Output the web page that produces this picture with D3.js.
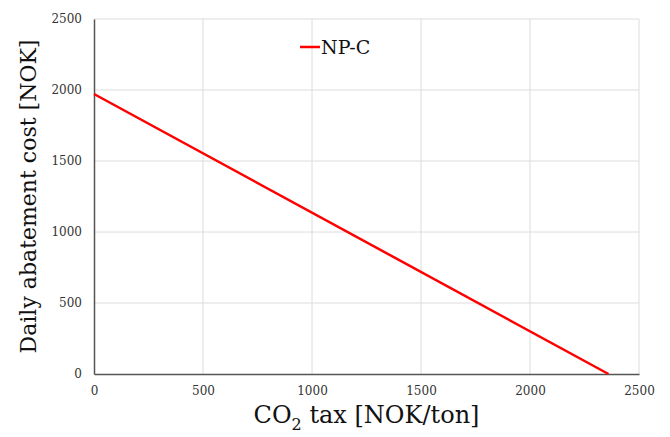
<!DOCTYPE html>
<html>
<head>
<meta charset="utf-8">
<script src="https://cdn.jsdelivr.net/npm/d3@7"></script>
<style>
  body { margin: 0; background: #fff; }
  svg text { font-family: "DejaVu Serif", serif; }
</style>
</head>
<body>
<div id="chart"></div>
<script>
const seriesName = "NP-C"
const taxValues = [0, 2360]
const costValues = [1972, 0]
const xTicks = [0, 500, 1000, 1500, 2000, 2500]
const yTicks = [0, 500, 1000, 1500, 2000, 2500]

const width = 670
const height = 437
const margin = { top: 19, right: 31, bottom: 63, left: 94 }
const serif = "'DejaVu Serif', serif"

const svg = d3.select("#chart")
  .append("svg")
  .attr("width", width)
  .attr("height", height)

const x = d3.scaleLinear()
  .domain([0, 2500])
  .range([margin.left, width - margin.right])

const y = d3.scaleLinear()
  .domain([0, 2500])
  .range([height - margin.bottom, margin.top])

// grid
svg.append("g")
  .selectAll("line")
  .data(yTicks.slice(1))
  .enter()
  .append("line")
  .attr("x1", x(0))
  .attr("x2", x(2500))
  .attr("y1", d => y(d))
  .attr("y2", d => y(d))
  .style("stroke", "#dcdcdc")
  .style("stroke-width", 1)

svg.append("g")
  .selectAll("line")
  .data(xTicks.slice(1))
  .enter()
  .append("line")
  .attr("x1", d => x(d))
  .attr("x2", d => x(d))
  .attr("y1", y(0))
  .attr("y2", y(2500))
  .style("stroke", "#dcdcdc")
  .style("stroke-width", 1)

// axes
const xAxis = svg.append("g")
  .attr("transform", `translate(0,${y(0)})`)
  .call(d3.axisBottom(x).tickValues(xTicks).tickFormat(d3.format("d")).tickSize(0).tickPadding(12))
xAxis.attr("font-family", null)
xAxis.select(".domain").style("stroke", "#555").style("stroke-width", 1.5)
xAxis.selectAll("text").style("font-size", "12px").style("fill", "#333")
  .style("font-family", serif)

const yAxis = svg.append("g")
  .attr("transform", `translate(${x(0)},0)`)
  .call(d3.axisLeft(y).tickValues(yTicks).tickFormat(d3.format("d")).tickSize(0).tickPadding(12))
yAxis.attr("font-family", null)
yAxis.select(".domain").style("stroke", "#555").style("stroke-width", 1.5)
yAxis.selectAll("text").style("font-size", "12px").style("fill", "#333")
  .style("font-family", serif)

// series line
const line = d3.line()
  .x((d, i) => x(taxValues[i]))
  .y(d => y(d))

svg.append("path")
  .datum(costValues)
  .attr("d", line)
  .style("fill", "none")
  .style("stroke", "#ff0000")
  .style("stroke-width", 2.5)

// legend
svg.append("line")
  .attr("x1", 300)
  .attr("x2", 320)
  .attr("y1", 47)
  .attr("y2", 47)
  .style("stroke", "#ff0000")
  .style("stroke-width", 2.5)

svg.append("text")
  .attr("x", 321)
  .attr("y", 54)
  .style("font-size", "19px")
  .style("fill", "#111")
  .text(seriesName)

// axis titles
const xTitle = svg.append("text")
  .attr("x", (x(0) + x(2500)) / 2)
  .attr("y", 423)
  .attr("text-anchor", "middle")
  .style("font-size", "24px")
  .style("fill", "#111")
xTitle.append("tspan").text("CO")
xTitle.append("tspan").attr("dy", 7).style("font-size", "16px").text("2")
xTitle.append("tspan").attr("dy", -7).text(" tax [NOK/ton]")

svg.append("text")
  .attr("transform", `translate(36,${(y(0) + y(2500)) / 2}) rotate(-90)`)
  .attr("text-anchor", "middle")
  .style("font-size", "22px")
  .style("fill", "#111")
  .text("Daily abatement cost [NOK]")
</script>
</body>
</html>
